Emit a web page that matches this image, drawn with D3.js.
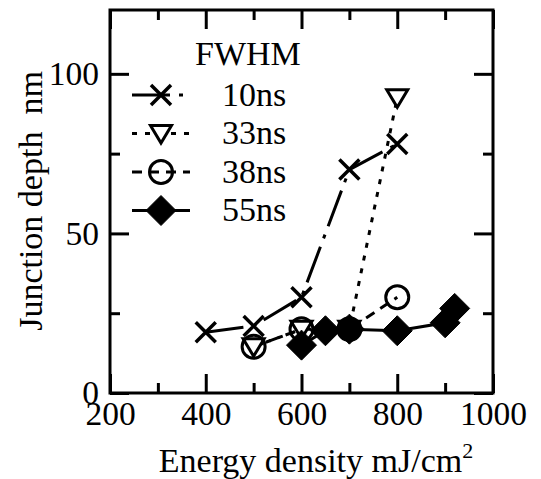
<!DOCTYPE html>
<html>
<head>
<meta charset="utf-8">
<script src="https://cdn.jsdelivr.net/npm/d3@7"></script>
<style>
  html, body { margin: 0; padding: 0; background: #fff; }
  svg { display: block; }
  text { font-family: "Liberation Serif", "Times New Roman", serif; fill: #000; }
</style>
</head>
<body>
<script>
// Junction depth versus laser energy density for four pulse widths (FWHM)
const energy10 = [400, 500, 600, 700, 800];
const depth10  = [19, 21, 30, 70, 78];
const energy33 = [500, 600, 700, 800];
const depth33  = [14.5, 20, 20, 92.5];
const energy38 = [500, 600, 700, 800];
const depth38  = [14.5, 20, 20, 30];
const energy55 = [600, 650, 700, 800, 900, 920];
const depth55  = [15, 19.5, 20, 19.5, 22, 26.5];

const seriesNames = ["10ns", "33ns", "38ns", "55ns"];
const xMajorTicks = [200, 400, 600, 800, 1000];
const xMinorTicks = [300, 500, 700, 900];
const yMajorTicks = [0, 50, 100];
const yMinorTicks = [25, 75];
const xTitle = "Energy density mJ/cm";
const xTitleSup = "2";
const yTitle = "Junction depth  nm";
const legendTitle = "FWHM";

const W = 541, H = 479;
const plotLeft = 110, plotRight = 493, plotTop = 10, plotBottom = 393;

const svg = d3.select("body").append("svg").attr("width", W).attr("height", H);

const x = d3.scaleLinear().domain([200, 1000]).range([plotLeft, plotRight]);
const y = d3.scaleLinear().domain([0, 120]).range([plotBottom, plotTop]);

// Marker shapes
const markers = {
  cross:    { d: "M-10,-10L10,10M-10,10L10,-10", fill: "none", sw: 3.5 },
  triangle: { d: "M-10.5,-8L10.5,-8L0,9.5Z", fill: "#fff", sw: 3 },
  circle:   { d: d3.arc()({innerRadius: 0, outerRadius: 11.5, startAngle: 0, endAngle: 2 * Math.PI}), fill: "none", sw: 3 },
  diamond:  { d: "M0,-15L15,0L0,15L-15,0Z", fill: "#000", sw: 1 }
};

const series = [
  { name: seriesNames[0], xs: energy10, ys: depth10, marker: "cross",    dash: "38,9,4,9" },
  { name: seriesNames[1], xs: energy33, ys: depth33, marker: "triangle", dash: "5,8" },
  { name: seriesNames[2], xs: energy38, ys: depth38, marker: "circle",   dash: "10,7" },
  { name: seriesNames[3], xs: energy55, ys: depth55, marker: "diamond",  dash: null }
];

// Axes: inward ticks on all four sides
function styleAxis(g) {
  g.select(".domain").remove();
  g.selectAll(".tick line").attr("stroke", "#000").attr("stroke-width", 3);
  g.selectAll(".tick text").attr("font-size", "33.5px")
    .attr("font-family", "'Liberation Serif', 'Times New Roman', serif").attr("fill", "#000");
}

svg.append("g").attr("transform", `translate(0,${plotBottom})`)
  .call(d3.axisBottom(x).tickValues(xMajorTicks).tickSize(-19).tickPadding(8).tickFormat(d3.format("d")))
  .call(styleAxis);
svg.append("g").attr("transform", `translate(0,${plotBottom})`)
  .call(d3.axisBottom(x).tickValues(xMinorTicks).tickSize(-10).tickFormat(""))
  .call(styleAxis);
svg.append("g").attr("transform", `translate(0,${plotTop})`)
  .call(d3.axisTop(x).tickValues(xMajorTicks).tickSize(-19).tickFormat(""))
  .call(styleAxis);
svg.append("g").attr("transform", `translate(0,${plotTop})`)
  .call(d3.axisTop(x).tickValues(xMinorTicks).tickSize(-10).tickFormat(""))
  .call(styleAxis);
svg.append("g").attr("transform", `translate(${plotLeft},0)`)
  .call(d3.axisLeft(y).tickValues(yMajorTicks).tickSize(-19).tickPadding(11).tickFormat(d3.format("d")))
  .call(styleAxis);
svg.append("g").attr("transform", `translate(${plotLeft},0)`)
  .call(d3.axisLeft(y).tickValues(yMinorTicks).tickSize(-10).tickFormat(""))
  .call(styleAxis);
svg.append("g").attr("transform", `translate(${plotRight},0)`)
  .call(d3.axisRight(y).tickValues(yMajorTicks).tickSize(-19).tickFormat(""))
  .call(styleAxis);
svg.append("g").attr("transform", `translate(${plotRight},0)`)
  .call(d3.axisRight(y).tickValues(yMinorTicks).tickSize(-10).tickFormat(""))
  .call(styleAxis);

// Plot frame
svg.append("rect")
  .attr("x", plotLeft).attr("y", plotTop)
  .attr("width", plotRight - plotLeft).attr("height", plotBottom - plotTop)
  .attr("fill", "none").attr("stroke", "#000").attr("stroke-width", 3);

// Series lines
const line = d3.line().x(d => x(d[0])).y(d => y(d[1]));
series.forEach(s => {
  const pts = s.xs.map((v, i) => [v, s.ys[i]]);
  svg.append("path")
    .attr("d", line(pts))
    .attr("fill", "none")
    .attr("stroke", "#000")
    .attr("stroke-width", 3)
    .attr("stroke-dasharray", s.dash);
});

// Series markers
series.forEach(s => {
  const m = markers[s.marker];
  svg.append("g").selectAll("path")
    .data(s.xs.map((v, i) => [v, s.ys[i]]))
    .join("path")
    .attr("transform", d => `translate(${x(d[0])},${y(d[1])})`)
    .attr("d", m.d)
    .attr("fill", m.fill)
    .attr("stroke", "#000")
    .attr("stroke-width", m.sw);
});

// Legend
const legend = svg.append("g");
legend.append("text").attr("x", 195).attr("y", 65).attr("font-size", "34px").text(legendTitle);
series.forEach((s, i) => {
  const cy = 95 + i * 38.5;
  const m = markers[s.marker];
  legend.append("line")
    .attr("x1", 132).attr("x2", 190).attr("y1", cy).attr("y2", cy)
    .attr("stroke", "#000").attr("stroke-width", 3)
    .attr("stroke-dasharray", s.dash);
  legend.append("path")
    .attr("transform", `translate(161,${cy})`)
    .attr("d", m.d).attr("fill", m.fill)
    .attr("stroke", "#000").attr("stroke-width", m.sw);
  legend.append("text").attr("x", 222).attr("y", cy + 10.5)
    .attr("font-size", "34px").text(s.name);
});

// Axis titles
const xt = svg.append("text")
  .attr("x", 316).attr("y", 472)
  .attr("text-anchor", "middle")
  .attr("font-size", "34px");
xt.append("tspan").text(xTitle);
xt.append("tspan").attr("font-size", "22px").attr("dy", -14).text(xTitleSup);

svg.append("text")
  .attr("transform", `translate(42,201) rotate(-90)`)
  .attr("text-anchor", "middle")
  .attr("font-size", "34px")
  .style("white-space", "pre")
  .text(yTitle);
</script>
</body>
</html>
